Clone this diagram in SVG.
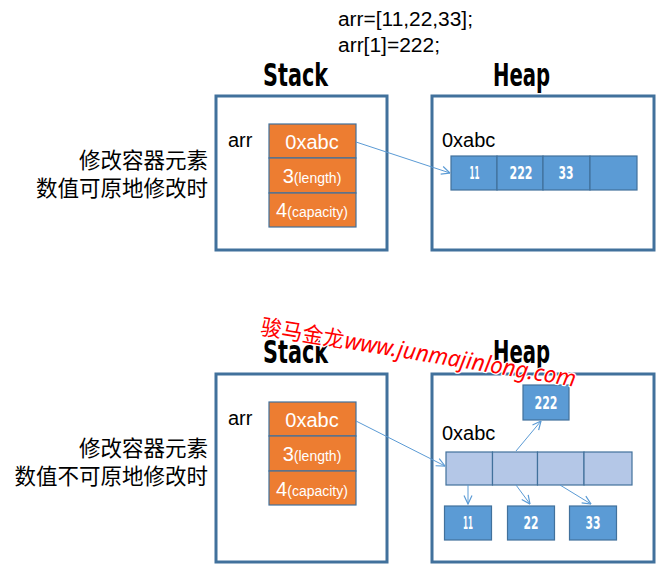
<svg xmlns="http://www.w3.org/2000/svg" width="672" height="580" viewBox="0 0 672 580">
<defs>
<style>
.frame{fill:#fff;stroke:#41719C;stroke-width:3}
.oc{fill:#ED7D31;stroke:#41719C;stroke-width:1.2}
.bc{fill:#5B9BD5;stroke:#41719C;stroke-width:1.2}
.lc{fill:#B4C7E7;stroke:#41719C;stroke-width:1.2}
.t{font-family:"Liberation Sans","Noto Sans",sans-serif;font-size:20px;fill:#000}
.w{font-family:"Liberation Sans","Noto Sans",sans-serif;font-size:20px;fill:#fff}
.sm{font-size:14px}
.title{font-family:"DejaVu Sans Condensed","Liberation Sans",sans-serif;font-weight:bold;font-size:32px;fill:#000}
.num{font-family:"DejaVu Sans Condensed","Liberation Sans",sans-serif;font-weight:bold;font-size:18px;fill:#fff;text-anchor:middle}
.cn{font-family:"Noto Sans CJK SC","Noto Sans",sans-serif;font-size:21.5px;fill:#000;text-anchor:end}
.conn{fill:none;stroke:#5B9BD5;stroke-width:1}
.wm{fill:#FF0000;stroke:#fff;stroke-width:2.5;paint-order:stroke;stroke-linejoin:round}
</style>
<marker id="arr" viewBox="0 0 10 10" refX="9.5" refY="5" markerWidth="10" markerHeight="10" markerUnits="userSpaceOnUse" orient="auto">
<path d="M1,1 L9.5,5 L1,9" fill="none" stroke="#5B9BD5" stroke-width="1.2"/>
</marker>
</defs>
<rect width="672" height="580" fill="#fff"/>

<g id="code">
<text class="t" x="338" y="26" textLength="135" lengthAdjust="spacingAndGlyphs">arr=[11,22,33];</text>
<text class="t" x="338" y="52" textLength="102" lengthAdjust="spacingAndGlyphs">arr[1]=222;</text>
</g>

<g id="label-top">
<text class="cn" x="208" y="168">修改容器元素</text>
<text class="cn" x="208" y="196">数值可原地修改时</text>
</g>

<g id="stack-top">
<text class="title" x="263" y="86" textLength="65" lengthAdjust="spacingAndGlyphs">Stack</text>
<rect class="frame" x="216" y="96" width="171" height="154"/>
<text class="t" x="228" y="147">arr</text>
<rect class="oc" x="269" y="124" width="87" height="34"/>
<rect class="oc" x="269" y="158" width="87" height="35"/>
<rect class="oc" x="269" y="193" width="87" height="34"/>
<text class="w" x="312" y="149" text-anchor="middle">0xabc</text>
<text class="w" x="312" y="183" text-anchor="middle">3<tspan class="sm">(length)</tspan></text>
<text class="w" x="312" y="217" text-anchor="middle">4<tspan class="sm">(capacity)</tspan></text>
</g>

<g id="heap-top">
<text class="title" x="493" y="86" textLength="57" lengthAdjust="spacingAndGlyphs">Heap</text>
<rect class="frame" x="432" y="96" width="222" height="154"/>
<text class="t" x="442" y="147">0xabc</text>
<rect class="bc" x="451" y="156" width="46" height="34"/>
<rect class="bc" x="497" y="156" width="46" height="34"/>
<rect class="bc" x="543" y="156" width="47" height="34"/>
<rect class="bc" x="590" y="156" width="47" height="34"/>
<text class="num" x="474.5" y="179" textLength="10" lengthAdjust="spacingAndGlyphs">11</text>
<text class="num" x="521" y="179" textLength="23" lengthAdjust="spacingAndGlyphs">222</text>
<text class="num" x="566" y="179" textLength="15" lengthAdjust="spacingAndGlyphs">33</text>
</g>

<g id="label-bottom">
<text class="cn" x="208" y="456">修改容器元素</text>
<text class="cn" x="208" y="484">数值不可原地修改时</text>
</g>

<g id="stack-bottom">
<text class="title" x="263" y="363" textLength="65" lengthAdjust="spacingAndGlyphs">Stack</text>
<rect class="frame" x="216" y="374" width="171" height="188"/>
<text class="t" x="228" y="425">arr</text>
<rect class="oc" x="269" y="402" width="87" height="34"/>
<rect class="oc" x="269" y="436" width="87" height="35"/>
<rect class="oc" x="269" y="471" width="87" height="34"/>
<text class="w" x="312" y="427" text-anchor="middle">0xabc</text>
<text class="w" x="312" y="461" text-anchor="middle">3<tspan class="sm">(length)</tspan></text>
<text class="w" x="312" y="496" text-anchor="middle">4<tspan class="sm">(capacity)</tspan></text>
</g>

<g id="heap-bottom">
<text class="title" x="493" y="363" textLength="57" lengthAdjust="spacingAndGlyphs">Heap</text>
<rect class="frame" x="432" y="374" width="222" height="188"/>
<text class="t" x="442" y="440">0xabc</text>
<rect class="lc" x="446" y="452" width="46.5" height="33"/>
<rect class="lc" x="492.5" y="452" width="45" height="33"/>
<rect class="lc" x="537.5" y="452" width="46.5" height="33"/>
<rect class="lc" x="584" y="452" width="48" height="33"/>
</g>

<g id="node-222">
<rect class="bc" x="523" y="385" width="46" height="35"/>
<text class="num" x="546" y="409" textLength="23" lengthAdjust="spacingAndGlyphs">222</text>
</g>
<g id="node-11">
<rect class="bc" x="444.5" y="506" width="47" height="34"/>
<text class="num" x="468" y="529" textLength="10" lengthAdjust="spacingAndGlyphs">11</text>
</g>
<g id="node-22">
<rect class="bc" x="507.5" y="506" width="47" height="34"/>
<text class="num" x="531" y="529" textLength="15" lengthAdjust="spacingAndGlyphs">22</text>
</g>
<g id="node-33">
<rect class="bc" x="569.5" y="506" width="47" height="34"/>
<text class="num" x="593" y="529" textLength="15" lengthAdjust="spacingAndGlyphs">33</text>
</g>

<g id="connectors">
<path class="conn" d="M356,142 L450,173" marker-end="url(#arr)"/>
<path class="conn" d="M356,421 L445,466" marker-end="url(#arr)"/>
<path class="conn" d="M516,451 L541,421" marker-end="url(#arr)"/>
<path class="conn" d="M468,485 L468,504" marker-end="url(#arr)"/>
<path class="conn" d="M516,485 L530,504" marker-end="url(#arr)"/>
<path class="conn" d="M560,485 L591,504" marker-end="url(#arr)"/>
</g>

<g id="watermark" transform="rotate(9.5 260 333)">
<text class="wm" x="260" y="334" font-family="Noto Sans CJK SC, sans-serif" font-size="22" textLength="84" lengthAdjust="spacingAndGlyphs">骏马金龙</text>
<text class="wm" x="345" y="334" font-family="Noto Sans, Liberation Sans, sans-serif" font-style="italic" font-size="23" textLength="234" lengthAdjust="spacingAndGlyphs">www.junmajinlong.com</text>
</g>
</svg>
